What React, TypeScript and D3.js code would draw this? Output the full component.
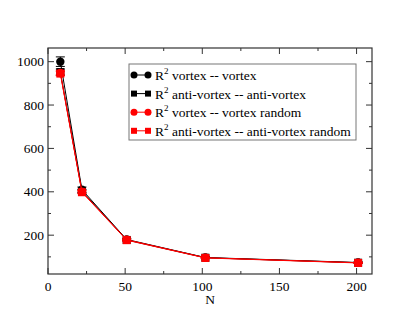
import React from "react";
import * as d3 from "d3";

// sample sizes
const nValues = [8, 22, 51, 102, 201];

// R^2 values per series
const vortex = [1000, 410, 180, 97, 74];
const vortexErr = [22, 12, 5, 3, 3];
const antiVortex = [952, 403, 178, 96, 73];
const antiVortexErr = [14, 8, 4, 3, 2];
const vortexRandom = [948, 400, 179, 96, 73];
const vortexRandomErr = [10, 6, 4, 3, 2];
const antiRandom = [945, 398, 177, 95, 72];
const antiRandomErr = [10, 6, 4, 3, 2];

const xTicks = [0, 50, 100, 150, 200];
const yTicks = [200, 400, 600, 800, 1000];

const seriesNames = [
    "vortex -- vortex",
    "anti-vortex -- anti-vortex",
    "vortex -- vortex random",
    "anti-vortex -- anti-vortex random",
];

const FONT = "'Times New Roman', 'Liberation Serif', Times, serif";

export default function App() {
    const ref = React.useRef(null);

    React.useEffect(() => {
        document.body.style.margin = "0";
        d3.select(ref.current).selectAll("*").remove();

        const width = 419;
        const height = 324;
        const margin = { top: 48, left: 48, right: 47, bottom: 50 };
        const w = width - margin.left - margin.right;
        const h = height - margin.top - margin.bottom;

        const svg = d3
            .select(ref.current)
            .append("svg")
            .attr("width", width)
            .attr("height", height)
            .style("display", "block")
            .style("background", "#fff");

        const g = svg
            .append("g")
            .attr("transform", `translate(${margin.left},${margin.top})`);

        const x = d3.scaleLinear().domain([0, 210]).range([0, w]);
        const y = d3.scaleLinear().domain([21, 1063]).range([h, 0]);

        // ticks on all four sides, pointing inward
        const xMinor = d3.range(25, 210, 50);
        const yMinor = d3.range(100, 1063, 200);
        const tickG = g.append("g").attr("stroke", "#333").attr("stroke-width", 1);
        xTicks.concat(xMinor).forEach((t) => {
            const len = xTicks.includes(t) ? 6 : 3;
            tickG.append("line").attr("x1", x(t)).attr("x2", x(t)).attr("y1", h).attr("y2", h - len);
            tickG.append("line").attr("x1", x(t)).attr("x2", x(t)).attr("y1", 0).attr("y2", len);
        });
        yTicks.concat(yMinor).forEach((t) => {
            const len = yTicks.includes(t) ? 6 : 3;
            tickG.append("line").attr("x1", 0).attr("x2", len).attr("y1", y(t)).attr("y2", y(t));
            tickG.append("line").attr("x1", w).attr("x2", w - len).attr("y1", y(t)).attr("y2", y(t));
        });

        g.append("g")
            .selectAll("text")
            .data(xTicks)
            .join("text")
            .attr("x", (d) => x(d))
            .attr("y", h + 17)
            .attr("text-anchor", "middle")
            .style("font-family", FONT)
            .style("font-size", "13.5px")
            .text((d) => d);

        g.append("g")
            .selectAll("text")
            .data(yTicks)
            .join("text")
            .attr("x", -4)
            .attr("y", (d) => y(d) + 4.5)
            .attr("text-anchor", "end")
            .style("font-family", FONT)
            .style("font-size", "13.5px")
            .text((d) => d);

        g.append("text")
            .attr("x", x(105))
            .attr("y", h + 30)
            .attr("text-anchor", "middle")
            .style("font-family", FONT)
            .style("font-size", "13.5px")
            .text("N");

        const series = [
            { vals: vortex, err: vortexErr, color: "#000", shape: "circle" },
            { vals: antiVortex, err: antiVortexErr, color: "#000", shape: "square" },
            { vals: vortexRandom, err: vortexRandomErr, color: "#f00", shape: "circle" },
            { vals: antiRandom, err: antiRandomErr, color: "#f00", shape: "square" },
        ];

        const line = d3
            .line()
            .x((d) => x(d[0]))
            .y((d) => y(d[1]));

        function drawMarker(sel, shape, cx, cy, color) {
            if (shape === "circle") {
                sel.append("circle").attr("cx", cx).attr("cy", cy).attr("r", 4.2).attr("fill", color);
            } else {
                sel.append("rect").attr("x", cx - 4).attr("y", cy - 4).attr("width", 8).attr("height", 8).attr("fill", color);
            }
        }

        series.forEach((s) => {
            const pts = nValues.map((n, i) => [n, s.vals[i]]);
            const sg = g.append("g");
            sg.append("path")
                .datum(pts)
                .attr("fill", "none")
                .attr("stroke", s.color)
                .attr("stroke-width", 1)
                .attr("d", line);
            pts.forEach((p, i) => {
                const cx = x(p[0]);
                const top = y(p[1] + s.err[i]);
                const bot = y(p[1] - s.err[i]);
                sg.append("line").attr("x1", cx).attr("x2", cx).attr("y1", top).attr("y2", bot).attr("stroke", s.color);
                sg.append("line").attr("x1", cx - 4.5).attr("x2", cx + 4.5).attr("y1", top).attr("y2", top).attr("stroke", s.color);
                sg.append("line").attr("x1", cx - 4.5).attr("x2", cx + 4.5).attr("y1", bot).attr("y2", bot).attr("stroke", s.color);
                drawMarker(sg, s.shape, cx, y(p[1]), s.color);
            });
        });

        // frame
        g.append("rect")
            .attr("width", w)
            .attr("height", h)
            .attr("fill", "none")
            .attr("stroke", "#333")
            .attr("stroke-width", 1.2);

        // legend
        const lg = svg.append("g").attr("transform", "translate(129,64)");
        lg.append("rect")
            .attr("width", 227)
            .attr("height", 76)
            .attr("fill", "#fff")
            .attr("stroke", "#777")
            .attr("stroke-width", 1);
        series.forEach((s, i) => {
            const ry = 11 + i * 18.6;
            lg.append("line").attr("x1", 5).attr("x2", 19).attr("y1", ry).attr("y2", ry).attr("stroke", s.color);
            if (s.shape === "circle") {
                lg.append("circle").attr("cx", 5).attr("cy", ry).attr("r", 3.5).attr("fill", s.color);
                lg.append("circle").attr("cx", 19).attr("cy", ry).attr("r", 3.5).attr("fill", s.color);
            } else {
                lg.append("rect").attr("x", 2).attr("y", ry - 3).attr("width", 6).attr("height", 6).attr("fill", s.color);
                lg.append("rect").attr("x", 16).attr("y", ry - 3).attr("width", 6).attr("height", 6).attr("fill", s.color);
            }
            const t = lg
                .append("text")
                .attr("x", 26)
                .attr("y", ry + 5)
                .style("font-family", FONT)
                .style("font-size", "13.5px");
            t.append("tspan").text("R");
            t.append("tspan").attr("dy", -6).style("font-size", "9px").text("2");
            t.append("tspan").attr("dy", 6).text(" " + seriesNames[i]);
        });
    }, []);

    return <div ref={ref} />;
}
